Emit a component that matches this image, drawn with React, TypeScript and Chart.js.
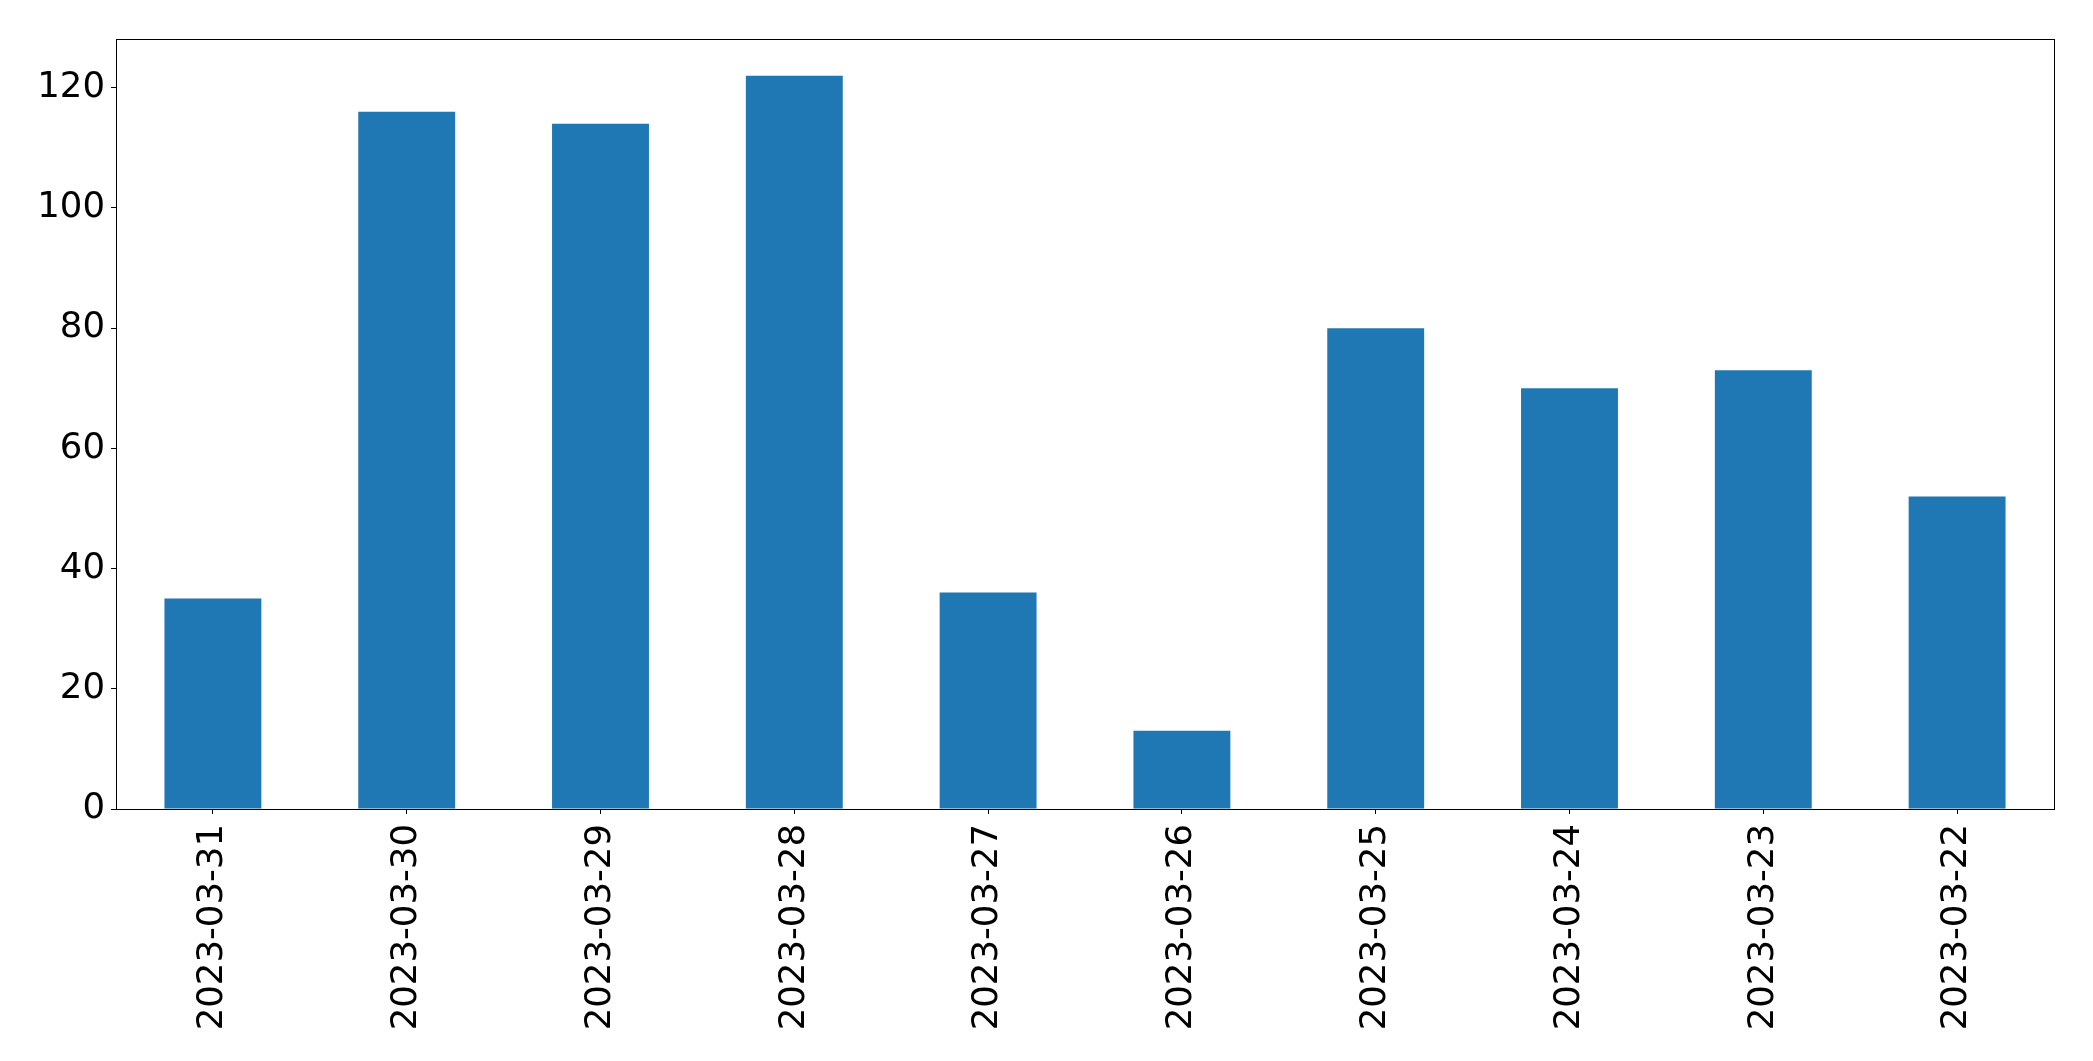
import React, { useEffect, useRef } from "react";
import { Chart, registerables } from "chart.js";

Chart.register(...registerables);

const categories = [
  "2023-03-31",
  "2023-03-30",
  "2023-03-29",
  "2023-03-28",
  "2023-03-27",
  "2023-03-26",
  "2023-03-25",
  "2023-03-24",
  "2023-03-23",
  "2023-03-22",
];
const values = [35, 116, 114, 122, 36, 13, 80, 70, 73, 52];
const yMax = 128.1;
const yStep = 20;

const frame = {
  id: "frame",
  afterDraw(chart: any) {
    const { ctx, chartArea } = chart;
    ctx.save();
    ctx.strokeStyle = "#000";
    ctx.lineWidth = 1;
    ctx.strokeRect(
      Math.round(chartArea.left) + 0.5,
      Math.round(chartArea.top) + 0.5,
      Math.round(chartArea.right - chartArea.left),
      Math.round(chartArea.bottom - chartArea.top)
    );
    ctx.restore();
  },
};

export default function App() {
  const ref = useRef<HTMLCanvasElement | null>(null);
  useEffect(() => {
    if (!ref.current) return;
    const font = { family: "DejaVu Sans", size: 35.5 };
    const chart = new Chart(ref.current, {
      type: "bar",
      data: {
        labels: categories,
        datasets: [
          {
            data: values,
            backgroundColor: "#1f77b4",
            borderWidth: 0,
            barPercentage: 0.5,
            categoryPercentage: 1,
          },
        ],
      },
      options: {
        responsive: false,
        animation: false,
        layout: { padding: { left: 0, top: 39, right: 39, bottom: 0 } },
        plugins: { legend: { display: false }, tooltip: { enabled: false } },
        scales: {
          x: {
            offset: true,
            grid: {
              display: true,
              drawOnChartArea: false,
              drawTicks: true,
              tickLength: 5,
              color: "#000",
              offset: false,
            },
            border: { display: true, color: "#000", width: 1 },
            ticks: {
              color: "#000",
              font,
              minRotation: 90,
              maxRotation: 90,
              padding: 10,
              autoSkip: false,
            },
            afterFit(scale: any) {
              scale.height = 252;
            },
          },
          y: {
            min: 0,
            max: yMax,
            grid: {
              display: true,
              drawOnChartArea: false,
              drawTicks: true,
              tickLength: 5,
              color: "#000",
            },
            border: { display: true, color: "#000", width: 1 },
            ticks: {
              color: "#000",
              font,
              stepSize: yStep,
              includeBounds: false,
              padding: 6,
            },
            afterFit(scale: any) {
              scale.width = 116;
            },
          },
        },
      },
      plugins: [frame],
    });
    return () => chart.destroy();
  }, []);
  return (
    <canvas
      ref={ref}
      width={2093}
      height={1061}
      style={{ position: "fixed", left: 0, top: 0, width: 2093, height: 1061, background: "#fff" }}
    />
  );
}
